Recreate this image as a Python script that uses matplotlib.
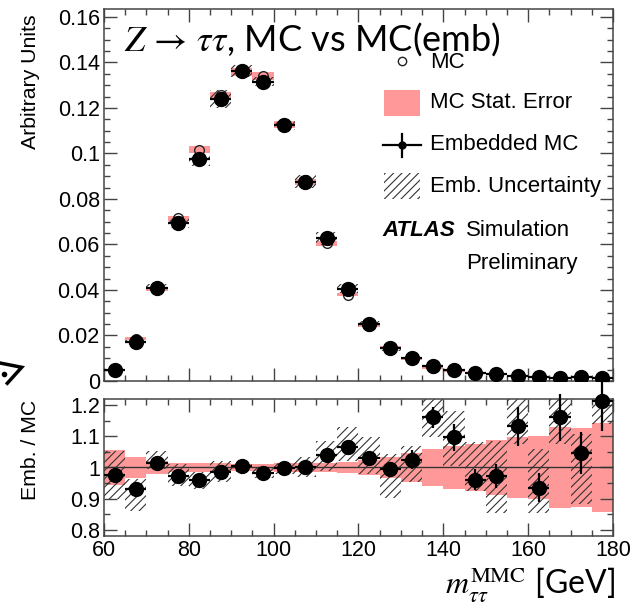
import matplotlib
matplotlib.use('Agg')
import matplotlib.pyplot as plt
import numpy as np
from matplotlib.patches import Rectangle
from matplotlib.lines import Line2D
from matplotlib.ticker import MultipleLocator, FuncFormatter

# ---------------- data ----------------
bin_lo = [60, 65, 70, 75, 80, 85, 90, 95, 100, 105, 110, 115,
          120, 125, 130, 135, 140, 145, 150, 155, 160, 165, 170, 175]
bin_width = 5.0
emb = [0.0048, 0.0173, 0.0410, 0.0696, 0.0975, 0.1240, 0.1363, 0.1316,
       0.1125, 0.0876, 0.0629, 0.0404, 0.0250, 0.0146, 0.0100, 0.0066,
       0.0048, 0.0034, 0.0029, 0.0022, 0.0019, 0.0015, 0.0017, 0.0015]
mc = [0.0049, 0.0186, 0.0405, 0.0715, 0.1016, 0.1256, 0.1358, 0.1341,
      0.1126, 0.0874, 0.0605, 0.0379, 0.0242, 0.0147, 0.0098, 0.0057,
      0.0044, 0.0035, 0.0030, 0.0019, 0.0020, 0.0013, 0.0016, 0.0012]
ratio = [0.977, 0.932, 1.013, 0.973, 0.960, 0.987, 1.004, 0.981, 0.999,
         1.002, 1.040, 1.065, 1.032, 0.994, 1.025, 1.161, 1.097, 0.960,
         0.973, 1.132, 0.935, 1.161, 1.046, 1.213]
emb_stat_rel = [0.020, 0.020, 0.015, 0.012, 0.010, 0.010, 0.010, 0.010,
                0.010, 0.012, 0.015, 0.018, 0.020, 0.025, 0.030, 0.030,
                0.040, 0.035, 0.040, 0.055, 0.050, 0.065, 0.065, 0.080]
mc_stat_rel = [0.057, 0.034, 0.022, 0.016, 0.015, 0.013, 0.012, 0.012,
               0.013, 0.014, 0.016, 0.019, 0.024, 0.033, 0.048, 0.058,
               0.068, 0.075, 0.088, 0.097, 0.100, 0.130, 0.128, 0.143]
emb_unc_lo = [0.898, 0.860, 0.996, 0.940, 0.930, 0.955, 0.984, 0.966,
              0.980, 0.970, 0.989, 1.022, 0.979, 0.903, 0.952, 1.097,
              1.005, 0.925, 0.855, 1.075, 0.855, 1.075, 0.882, 1.140]
emb_unc_hi = [1.054, 0.963, 1.054, 1.010, 0.984, 1.020, 1.022, 0.998,
              1.016, 1.035, 1.086, 1.129, 1.097, 1.043, 1.070, 1.300,
              1.183, 1.081, 1.086, 1.300, 1.059, 1.300, 1.108, 1.300]

# ---------------- style ----------------
plt.rcParams['font.family'] = ['Liberation Sans', 'DejaVu Sans']
plt.rcParams['mathtext.fontset'] = 'stix'
plt.rcParams['hatch.linewidth'] = 0.8
plt.rcParams['hatch.color'] = '#333333'

W, H = 630, 611
fig = plt.figure(figsize=(W / 100, H / 100), dpi=100)

def fx(x):
    return x / W

def fy(y):
    return 1 - y / H

L, R = 104, 613
ax1 = fig.add_axes([fx(L), fy(381), fx(R) - fx(L), fy(9) - fy(381)])
ax2 = fig.add_axes([fx(L), fy(536), fx(R) - fx(L), fy(399) - fy(536)])

lo = np.array(bin_lo, dtype=float)
ctr = lo + bin_width / 2
emb_a = np.array(emb)
mc_a = np.array(mc)
rat = np.array(ratio)
est = np.array(emb_stat_rel)
mst = np.array(mc_stat_rel)
ulo = np.array(emb_unc_lo)
uhi = np.array(emb_unc_hi)

pink = '#ff9999'
frame = '#444444'

# ----- top panel -----
ax1.bar(lo, 2 * mst * mc_a, bottom=mc_a * (1 - mst), width=bin_width,
        align='edge', color=pink, linewidth=0, zorder=1)
ax1.bar(lo, (uhi - ulo) * mc_a, bottom=ulo * mc_a, width=bin_width,
        align='edge', fill=False, hatch='////', edgecolor='#333333',
        linewidth=0, zorder=2)
ax1.plot(ctr, mc_a, 'o', mfc='none', mec='#222222', ms=7, mew=1.0, zorder=3)
ax1.errorbar(ctr, emb_a, xerr=bin_width / 2, yerr=emb_a * est, fmt='o',
             color='black', ms=10, elinewidth=1.6, capsize=0, zorder=4)

# ----- ratio panel -----
ax2.bar(lo, 2 * mst, bottom=1 - mst, width=bin_width, align='edge',
        color=pink, linewidth=0, zorder=1)
ax2.bar(lo, uhi - ulo, bottom=ulo, width=bin_width, align='edge',
        fill=False, hatch='////', edgecolor='#333333', linewidth=0, zorder=2)
ax2.axhline(1.0, color='#333333', lw=1.0, zorder=3)
ax2.errorbar(ctr, rat, xerr=bin_width / 2, yerr=est * rat, fmt='o',
             color='black', ms=10, elinewidth=1.6, capsize=0, zorder=4,
             clip_on=False)

fmt = FuncFormatter(lambda v, p: '%g' % round(v, 6))
for ax in (ax1, ax2):
    ax.set_xlim(60, 180)
    ax.xaxis.set_major_locator(MultipleLocator(20))
    ax.xaxis.set_minor_locator(MultipleLocator(5))
    ax.tick_params(which='both', direction='in', top=True, right=True,
                   colors=frame, labelcolor='black', labelsize=15.5, pad=3)
    ax.tick_params(which='major', length=9.4, width=1.0)
    ax.tick_params(which='minor', length=4.5, width=1.0)
    for s in ax.spines.values():
        s.set_color(frame)
        s.set_linewidth(1.1)
    ax.yaxis.set_major_formatter(fmt)
    ax.xaxis.set_major_formatter(fmt)

ax1.set_ylim(0, 0.1635)
ax1.yaxis.set_major_locator(MultipleLocator(0.02))
ax1.yaxis.set_minor_locator(MultipleLocator(0.005))
ax1.tick_params(labelbottom=False)

ax2.set_ylim(0.78, 1.22)
ax2.yaxis.set_major_locator(MultipleLocator(0.1))
ax2.yaxis.set_minor_locator(MultipleLocator(0.05))

# axis titles
fig.text(fx(30), fy(14), 'Arbitrary Units', rotation=90, ha='center',
         va='top', fontsize=15.3)
fig.text(fx(30), fy(400), 'Emb. / MC', rotation=90, ha='center',
         va='top', fontsize=15.3)
fig.text(fx(615), fy(594), r'$m_{\tau\tau}^{\mathrm{MMC}}$ [GeV]',
         ha='right', va='baseline', fontsize=23, family=['Lato', 'DejaVu Sans'])

# title
fig.text(fx(124), fy(51), r'$Z\,\rightarrow\,\tau\tau$, MC vs MC(emb)',
         ha='left', va='baseline', fontsize=26, family=['Lato', 'DejaVu Sans'])

# ----- legend (manual, ROOT-like) -----
lfs = 16
# MC
fig.add_artist(Line2D([fx(402)], [fy(61)], marker='o', mfc='none',
                      mec='#222222', ms=6, mew=1.0, transform=fig.transFigure))
fig.text(fx(430), fy(63), 'MC', ha='left', va='center', fontsize=lfs)
# MC stat error
fig.add_artist(Rectangle((fx(384), fy(116)), fx(420) - fx(384), fy(90) - fy(116),
                         facecolor=pink, edgecolor='none',
                         transform=fig.transFigure))
fig.text(fx(430), fy(103), 'MC Stat. Error', ha='left', va='center', fontsize=lfs)
# Embedded MC
fig.add_artist(Line2D([fx(383), fx(421)], [fy(145), fy(145)], color='black',
                      lw=1.6, transform=fig.transFigure))
fig.add_artist(Line2D([fx(402), fx(402)], [fy(134), fy(157)], color='black',
                      lw=1.6, transform=fig.transFigure))
fig.add_artist(Line2D([fx(402)], [fy(145)], marker='o', color='black', ms=5,
                      transform=fig.transFigure))
fig.text(fx(430), fy(145), 'Embedded MC', ha='left', va='center', fontsize=lfs)
# Emb. uncertainty
fig.add_artist(Rectangle((fx(384), fy(199)), fx(420) - fx(384), fy(173) - fy(199),
                         fill=False, hatch='////', edgecolor='#333333',
                         linewidth=0, transform=fig.transFigure))
fig.text(fx(430), fy(187), 'Emb. Uncertainty', ha='left', va='center', fontsize=lfs)
# ATLAS label
fig.text(fx(382), fy(231), 'ATLAS', ha='left', va='center', fontsize=lfs,
         fontweight='bold', fontstyle='italic')
fig.text(fx(466), fy(231), 'Simulation', ha='left', va='center', fontsize=lfs)
fig.text(fx(466), fy(263), 'Preliminary', ha='left', va='center', fontsize=lfs)

# small cropped artefact at the left edge of the reference image
fig.add_artist(Line2D([fx(0), fx(21.7), fx(7.3)], [fy(363), fy(367.3), fy(383.3)],
                      color='black', lw=2.5, solid_joinstyle='miter',
                      transform=fig.transFigure))
fig.add_artist(Line2D([fx(4)], [fy(374)], marker='o', color='black', ms=3,
                      transform=fig.transFigure))

fig.savefig('out.png', dpi=100)
